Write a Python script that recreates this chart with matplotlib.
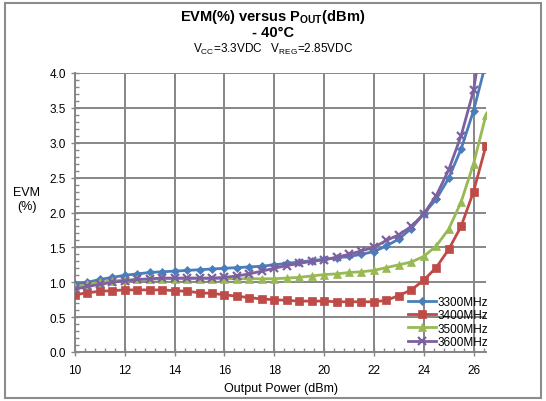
import matplotlib
matplotlib.use('Agg')
import matplotlib.pyplot as plt
import matplotlib.patches as patches
from matplotlib.ticker import MultipleLocator
import numpy as np

plt.rcParams['font.family'] = ['Liberation Sans', 'DejaVu Sans']
plt.rcParams['mathtext.fontset'] = 'custom'
plt.rcParams['mathtext.rm'] = 'Liberation Sans'
plt.rcParams['mathtext.bf'] = 'Liberation Sans:bold'

# Output power (dBm), 0.5 dB steps
pout = np.arange(10, 26.51, 0.5)

evm_3300 = [0.97, 1.00, 1.04, 1.07, 1.10, 1.12, 1.14, 1.15, 1.16, 1.17, 1.18, 1.19,
            1.20, 1.21, 1.22, 1.23, 1.25, 1.27, 1.29, 1.31, 1.33, 1.35, 1.37, 1.40,
            1.44, 1.52, 1.62, 1.77, 1.98, 2.19, 2.49, 2.91, 3.46, 4.15]
evm_3400 = [0.82, 0.85, 0.87, 0.88, 0.89, 0.89, 0.89, 0.89, 0.88, 0.87, 0.85, 0.84,
            0.82, 0.80, 0.78, 0.76, 0.75, 0.74, 0.73, 0.73, 0.73, 0.72, 0.72, 0.72,
            0.72, 0.74, 0.81, 0.89, 1.03, 1.21, 1.47, 1.80, 2.30, 2.96]
evm_3500 = [0.93, 0.97, 1.00, 1.02, 1.03, 1.04, 1.04, 1.05, 1.05, 1.05, 1.05, 1.05,
            1.05, 1.05, 1.05, 1.05, 1.05, 1.06, 1.07, 1.09, 1.11, 1.12, 1.14, 1.15,
            1.17, 1.21, 1.25, 1.29, 1.37, 1.52, 1.76, 2.15, 2.70, 3.40]
evm_3600 = [0.90, 0.94, 0.97, 1.00, 1.02, 1.04, 1.05, 1.06, 1.06, 1.06, 1.06, 1.06,
            1.07, 1.09, 1.12, 1.16, 1.20, 1.24, 1.27, 1.30, 1.32, 1.36, 1.40, 1.45,
            1.50, 1.60, 1.68, 1.80, 1.98, 2.24, 2.61, 3.10, 3.75, 4.90]

series = [
    ('3300MHz', evm_3300, '#4A7EBB', 'D', 4),
    ('3400MHz', evm_3400, '#BE4B48', 's', 5.5),
    ('3500MHz', evm_3500, '#98B954', '^', 5.5),
    ('3600MHz', evm_3600, '#7D60A0', 'x', 5.5),
]

fig = plt.figure(figsize=(5.46, 4.02), dpi=100)
ax = fig.add_axes([75/546, 49/402, 411/546, 279/402])

for label, vals, color, marker, ms in series:
    ax.plot(pout, vals, color=color, linewidth=2, marker=marker, markersize=ms,
            markeredgewidth=1.6 if marker == 'x' else 0.5, markeredgecolor=color,
            label=label, zorder=3)

ax.set_xlim(10, 26.5)
ax.set_ylim(0, 4.0)
ax.xaxis.set_major_locator(MultipleLocator(2))
ax.xaxis.set_minor_locator(MultipleLocator(0.4))
ax.yaxis.set_major_locator(MultipleLocator(0.5))
ax.yaxis.set_minor_locator(MultipleLocator(0.1))
ax.yaxis.set_major_formatter(matplotlib.ticker.FormatStrFormatter('%.1f'))

ax.grid(True, which='major', color='#868686', linewidth=1.4)
ax.set_axisbelow(True)
for s in ['top', 'right']:
    ax.spines[s].set_visible(False)
for s in ['left', 'bottom']:
    ax.spines[s].set_color('#868686')
    ax.spines[s].set_linewidth(1.4)

ax.tick_params(which='major', direction='inout', length=6, color='#868686',
               labelsize=8.5, width=1)
ax.tick_params(which='minor', direction='in', length=3, color='#868686', width=1)
ax.tick_params(axis='x', pad=6)

ax.set_xlabel('Output Power (dBm)', fontsize=9, labelpad=4)
fig.text(27/546, 1 - 200/402, 'EVM\n(%)', fontsize=9, ha='center', va='center',
         linespacing=1.3)

fig.text(0.5, 1 - 17/402, r'EVM(%) versus P$_{\mathbf{OUT}}$(dBm)', fontsize=10.5,
         fontweight='bold', ha='center', va='center')
fig.text(0.5, 1 - 33/402, '- 40°C', fontsize=10.5, fontweight='bold',
         ha='center', va='center')
fig.text(0.5, 1 - 49/402, r'V$_{\mathrm{CC}}$=3.3VDC   V$_{\mathrm{REG}}$=2.85VDC',
         fontsize=8.5, ha='center', va='center')

ax.legend(loc='lower left', bbox_to_anchor=(408/546, 1 - 349/402),
          bbox_transform=fig.transFigure, frameon=False, fontsize=8.5,
          handlelength=2.4, handletextpad=0.1, labelspacing=0.12,
          borderpad=0, borderaxespad=0)

fig.patches.append(patches.Rectangle((5/546, 3/402), 536/546, 395/402,
                                     transform=fig.transFigure, fill=False,
                                     edgecolor='#8c8c8c', linewidth=1.5))

fig.savefig('out.png', dpi=100)
